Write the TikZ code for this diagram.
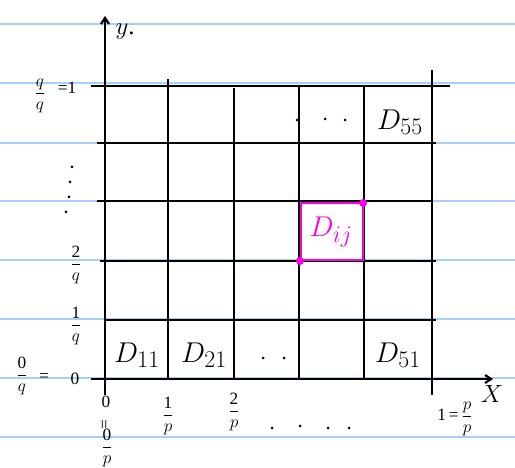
\documentclass[tikz,border=0pt]{standalone}
\usepackage{graphicx}
\usepackage{fontspec}
\setmainfont{Liberation Serif}
\usetikzlibrary{arrows.meta}
\begin{document}
\begin{tikzpicture}[x=1pt,y=-1pt,
  ruled/.style={draw={rgb,255:red,168;green,208;blue,245},line width=1.6pt},
  gridline/.style={draw=black,line width=1.6pt},
  axisline/.style={draw=black,line width=2.2pt},
  mag/.style={draw={rgb,255:red,255;green,0;blue,230},line width=1.8pt},
  magdot/.style={circle,fill={rgb,255:red,255;green,0;blue,230},inner sep=0pt,minimum size=8pt},
  pen/.style={circle,fill=black,inner sep=0pt,minimum size=3pt},
  big/.style={inner sep=0pt,font=\Huge},
  axlbl/.style={inner sep=0pt,font=\Huge},
  lbl/.style={inner sep=0pt,font=\LARGE}]
\useasboundingbox[fill=white] (0,0) rectangle (515,468);
% notebook rules
\foreach \yy in {24,83,143,201,260,319,378,437}
  \draw[ruled] (0,\yy) -- (515,\yy);
% horizontal grid lines
\draw[gridline] (91,86) -- (450,86);
\draw[gridline] (97,143) -- (436,143);
\draw[gridline] (97,201) -- (433,201);
\draw[gridline] (100,261) -- (436,261);
\draw[gridline] (105,320) -- (436,320);
% vertical grid lines
\draw[gridline] (168,79) -- (168,379);
\draw[gridline] (234,88) -- (234,379);
\draw[gridline] (299,86) -- (299,379);
\draw[gridline] (364,86) -- (364,379);
\draw[gridline] (432,70) -- (432,395);
% axes
\coordinate (ytop) at (105,16);
\coordinate (ybot) at (105,395);
\coordinate (xleft) at (91,379);
\coordinate (xright) at (493,379);
\draw[axisline,-{Straight Barb[length=6pt,width=8pt]}] (ybot) -- (ytop);
\draw[axisline,-{Straight Barb[length=6pt,width=8pt]}] (xleft) -- (xright);
\node[axlbl] (ylab) at (125,32) {$y$.};
\node[axlbl] (xlab) at (492,394) {$X$};
% magenta cell
\draw[mag] (301,203) rectangle (363,260);
\node[magdot] (dA) at (363,203) {};
\node[magdot] (dB) at (300,261) {};
\node[big,text={rgb,255:red,255;green,0;blue,230}] (dij) at (331,232) {\scalebox{1.15}{$D_{ij}$}};
% cell labels
\node[big] (d11) at (137,355) {\scalebox{1.15}{$D_{11}$}};
\node[big] (d21) at (204,355) {\scalebox{1.15}{$D_{21}$}};
\node[big] (d51) at (398,355) {\scalebox{1.15}{$D_{51}$}};
\node[big] (d55) at (400,122) {\scalebox{1.15}{$D_{55}$}};
% pen dots
\foreach \n/\px/\py in {a/263/358,b/284/358,
    c/297/120,d/325/119,e/345/120,
    f/272/428,g/300/426,h/328/428,i/349/428,
    j/72/167,k/70/182,l/69/197,m/66/212}
  \node[pen] (dot\n) at (\px,\py) {};
% y-axis labels
\node[lbl] (qq) at (40,96) {$\displaystyle\frac{q}{q}$};
\node[lbl] (qqone) at (67,88) {=1};
\node[lbl] (q2) at (76,265) {$\displaystyle\frac{\mbox{2}}{q}$};
\node[lbl] (q1) at (76,326) {$\displaystyle\frac{\mbox{1}}{q}$};
\node[lbl] (q0) at (22,376) {$\displaystyle\frac{\mbox{0}}{q}$};
\node[lbl] (q0eq) at (44,378) {=};
\node[lbl] (q0zero) at (75,379) {0};
% x-axis labels
\node[lbl] (p0) at (106,402) {0};
\node[lbl,rotate=90] (eq0) at (106,425) {=};
\node[lbl] (p0f) at (107,448) {$\displaystyle\frac{\mbox{0}}{p}$};
\node[lbl] (p1) at (168,416) {$\displaystyle\frac{\mbox{1}}{p}$};
\node[lbl] (p2) at (234,412) {$\displaystyle\frac{\mbox{2}}{p}$};
\node[lbl] (pp) at (455,419) {1\,=\,$\displaystyle\frac{p}{p}$};
\end{tikzpicture}
\end{document}
